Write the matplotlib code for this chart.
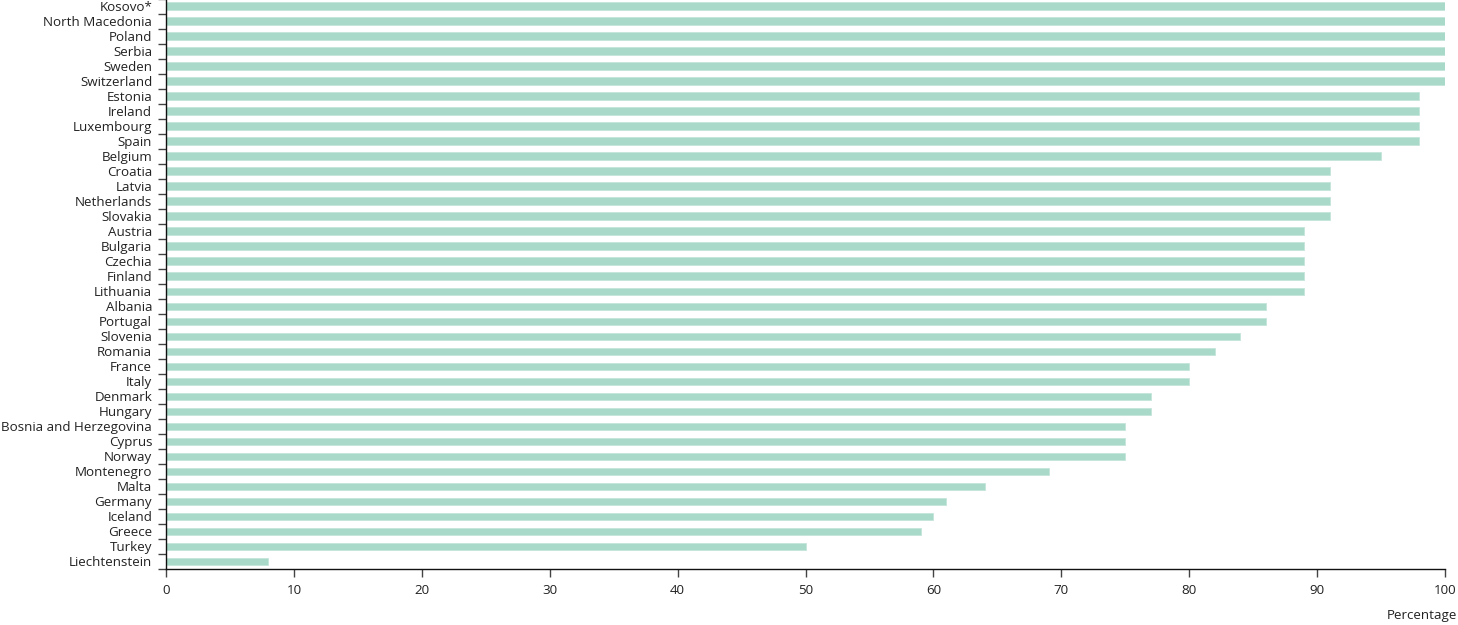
import numpy as np
import matplotlib
matplotlib.use("Agg")
import matplotlib.pyplot as plt

plt.rcParams['font.family'] = ['Open Sans', 'DejaVu Sans']

countries = ["Kosovo*", "North Macedonia", "Poland", "Serbia", "Sweden", "Switzerland",
             "Estonia", "Ireland", "Luxembourg", "Spain", "Belgium", "Croatia", "Latvia",
             "Netherlands", "Slovakia", "Austria", "Bulgaria", "Czechia", "Finland",
             "Lithuania", "Albania", "Portugal", "Slovenia", "Romania", "France", "Italy",
             "Denmark", "Hungary", "Bosnia and Herzegovina", "Cyprus", "Norway",
             "Montenegro", "Malta", "Germany", "Iceland", "Greece", "Turkey", "Liechtenstein"]
values = [100, 100, 100, 100, 100, 100,
          98, 98, 98, 98, 95, 91, 91,
          91, 91, 89, 89, 89, 89,
          89, 86, 86, 84, 82, 80, 80,
          77, 77, 75, 75, 75,
          69, 64, 61, 60, 59, 50, 8]
xticks = [0, 10, 20, 30, 40, 50, 60, 70, 80, 90, 100]

fig = plt.figure(figsize=(14.58, 6.25), dpi=100)
ax = fig.add_axes([0.1139, 0.0896, 0.8772, 0.9128])

pos = np.arange(len(countries))
ax.barh(pos, values, height=0.5, color="#a9d9c8", edgecolor="#c4e6da", linewidth=0.6)

ax.set_ylim(len(countries) - 0.5, -0.5)
ax.set_xlim(0, 100)

# y ticks at band edges, labels at band centres
ax.set_yticks(np.arange(len(countries) + 1) - 0.5)
ax.set_yticklabels([])
ax.set_yticks(pos, minor=True)
ax.set_yticklabels(countries, minor=True, fontsize=9.6, color="#222222")
ax.tick_params(axis='y', which='minor', length=0, pad=10)
ax.tick_params(axis='y', which='major', length=6, width=1, color="#444444")

ax.set_xticks(xticks)
ax.set_xticklabels([str(t) for t in xticks], fontsize=9.6, color="#222222")
ax.tick_params(axis='x', length=6, width=1, color="#444444", pad=5)

for s in ['top', 'right']:
    ax.spines[s].set_visible(False)
for s in ['left', 'bottom']:
    ax.spines[s].set_color("#111111")
    ax.spines[s].set_linewidth(1)

fig.text(0.9993, 0.004, "Percentage", ha='right', va='bottom', fontsize=9.6, color="#222222")

fig.savefig("out.png", dpi=100)
